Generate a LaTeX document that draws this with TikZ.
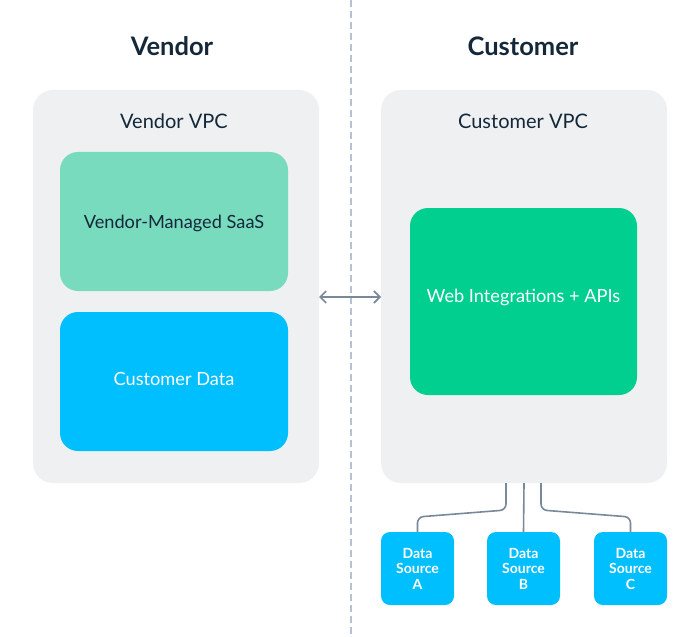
\documentclass[tikz,border=0pt]{standalone}
\usepackage{fontspec}
\setmainfont{Lato}
\usetikzlibrary{arrows.meta}
\definecolor{panel}{HTML}{EFF0F2}
\definecolor{mint}{HTML}{79DBBD}
\definecolor{sky}{HTML}{00BFFF}
\definecolor{emerald}{HTML}{00CF8F}
\definecolor{ink}{HTML}{14283A}
\definecolor{wire}{HTML}{7A8999}
\definecolor{divider}{HTML}{B8C1D1}
\tikzset{
  heading/.style={anchor=base, font=\bfseries\fontsize{25.5}{30}\selectfont, text=ink},
  vpc/.style={fill=panel, rounded corners=20pt, minimum width=286pt, minimum height=393pt, inner sep=0pt},
  vpclabel/.style={anchor=base, font=\fontsize{20}{24}\selectfont, text=ink},
  block/.style={rounded corners=18pt, inner sep=0pt},
  blocktext/.style={anchor=base, font=\fontsize{18.2}{22}\selectfont},
  source/.style={fill=sky, rounded corners=9pt, minimum width=73pt, minimum height=73pt, inner sep=0pt,
    align=center, text=white, font=\bfseries\fontsize{14}{15.5}\selectfont},
  link/.style={draw=wire, line width=1.6pt, rounded corners=6pt},
}
\begin{document}
\begin{tikzpicture}[x=1pt,y=-1pt]
  \useasboundingbox (0,0) rectangle (700,636);
  % divider between the two sides
  \draw[divider, line width=1.3pt, dash pattern=on 7pt off 4pt] (351,0) -- (351,636);

  % headings
  \node[heading] (vendorTitle) at (172,56) {Vendor};
  \node[heading] (customerTitle) at (523,56) {Customer};

  % VPC panels
  \node[vpc] (vendorVPC) at (176,286.5) {};
  \node[vpc] (customerVPC) at (524,286.5) {};
  \node[vpclabel] (vendorVPClabel) at (174,129) {Vendor VPC};
  \node[vpclabel] (customerVPClabel) at (523,129) {Customer VPC};

  % vendor side blocks
  \node[block, fill=mint, minimum width=228pt, minimum height=139pt] (saas) at (174,221.5) {};
  \node[blocktext, text=ink] (saasText) at (174,228) {Vendor-Managed SaaS};
  \node[block, fill=sky, minimum width=228pt, minimum height=139pt] (custData) at (174,381.5) {};
  \node[blocktext, text=white] (custDataText) at (174,385) {Customer Data};

  % customer side block
  \node[block, fill=emerald, minimum width=227pt, minimum height=187pt] (webapi) at (523.5,301.5) {};
  \node[blocktext, text=white] (webapiText) at (523.5,302) {Web Integrations + APIs};

  % two-way link between panels
  \coordinate (arrL) at (319,297);
  \coordinate (arrR) at (381,297);
  \draw[wire, line width=1.6pt, {Straight Barb[length=6pt,width=12pt]}-{Straight Barb[length=6pt,width=12pt]}] (arrL) -- (arrR);

  % data sources
  \node[source] (srcA) at (417.5,568.5) {Data\\Source\\A};
  \node[source] (srcB) at (523.5,568.5) {Data\\Source\\B};
  \node[source] (srcC) at (630.5,568.5) {Data\\Source\\C};

  % feeds into the customer VPC
  \draw[link] (506,483) -- (506,510) -- (srcA.north |- 0,517) -- (srcA.north);
  \draw[link] (524,483) -- (srcB.north);
  \draw[link] (541,483) -- (541,510) -- (srcC.north |- 0,517) -- (srcC.north);
\end{tikzpicture}
\end{document}
